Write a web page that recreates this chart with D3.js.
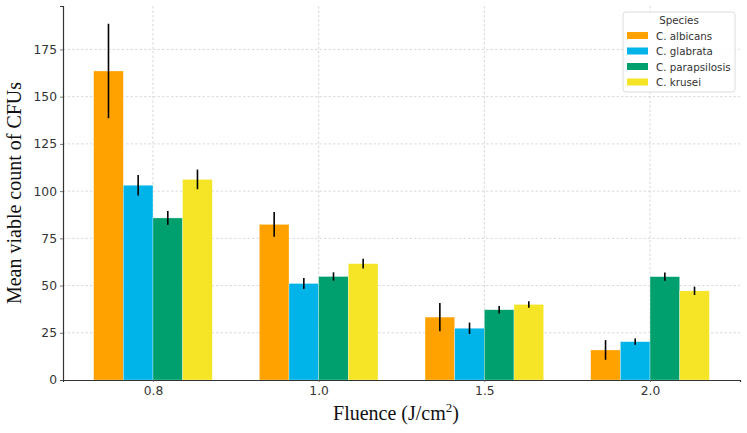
<!DOCTYPE html>
<html><head><meta charset="utf-8">
<script src="https://cdn.jsdelivr.net/npm/d3@7"></script>
<style>body{margin:0;background:#fff}svg{display:block}</style>
</head><body>
<script>
const categories = ["0.8", "1.0", "1.5", "2.0"];
const species = ["C. albicans", "C. glabrata", "C. parapsilosis", "C. krusei"];
const albicans = [163.6, 82.4, 33.3, 15.9];
const glabrata = [103.1, 51.1, 27.4, 20.3];
const parapsilosis = [85.8, 54.8, 37.2, 54.7];
const krusei = [106.2, 61.6, 40.0, 47.2];
const albicansErr = [25, 6.5, 7.5, 5.2];
const glabrataErr = [5.4, 2.9, 3.0, 1.7];
const parapsilosisErr = [3.7, 2.2, 2.0, 2.2];
const kruseiErr = [5.2, 2.6, 1.7, 2.2];
const yTicks = [0, 25, 50, 75, 100, 125, 150, 175];
const colors = ["#ffa200", "#00b4ea", "#00a06e", "#f5e526"];

const values = [albicans, glabrata, parapsilosis, krusei];
const errs = [albicansErr, glabrataErr, parapsilosisErr, kruseiErr];

const W = 747, H = 433;
const m = {left: 63, right: 7, top: 6, bottom: 53};
const svg = d3.select("body").append("svg").attr("width", W).attr("height", H);

const x = d3.scaleLinear().domain([-0.543, 3.543]).range([m.left, W - m.right]);
const y = d3.scaleLinear().domain([0, 198]).range([H - m.bottom, m.top]);
const barW = 0.179;

// grid
const g = svg.append("g");
g.selectAll(".hg").data(yTicks.slice(1)).join("line")
  .attr("x1", m.left).attr("x2", W - m.right)
  .attr("y1", d => y(d)).attr("y2", d => y(d))
  .attr("stroke", "#d0d0d0").attr("stroke-width", 0.8).attr("stroke-dasharray", "2.5,2");
g.selectAll(".vg").data(categories).join("line")
  .attr("x1", (d, i) => x(i)).attr("x2", (d, i) => x(i))
  .attr("y1", m.top).attr("y2", H - m.bottom)
  .attr("stroke", "#d0d0d0").attr("stroke-width", 0.8).attr("stroke-dasharray", "2.5,2");

// bars
species.forEach((s, si) => {
  const off = (si - 1.5) * barW;
  svg.append("g").selectAll("rect").data(values[si]).join("rect")
    .attr("x", (d, i) => x(i + off - barW / 2))
    .attr("width", x(barW) - x(0))
    .attr("y", d => y(d))
    .attr("height", d => y(0) - y(d))
    .attr("fill", colors[si])
    .attr("stroke", "rgba(255,255,255,0.5)").attr("stroke-width", 0.6);
  svg.append("g").selectAll("line").data(values[si]).join("line")
    .attr("x1", (d, i) => x(i + off)).attr("x2", (d, i) => x(i + off))
    .attr("y1", (d, i) => y(d + errs[si][i])).attr("y2", (d, i) => y(d - errs[si][i]))
    .attr("stroke", "#000").attr("stroke-width", 1.6);
});

// axes
const xAxis = svg.append("g").attr("transform", `translate(0,${H - m.bottom})`)
  .call(d3.axisBottom(x).tickValues([0, 1, 2, 3]).tickFormat(i => categories[i]).tickSize(2).tickPadding(4));
const yAxis = svg.append("g").attr("transform", `translate(${m.left},0)`)
  .call(d3.axisLeft(y).tickValues(yTicks).tickSize(3).tickPadding(3));
[xAxis, yAxis].forEach(a => {
  a.select(".domain").attr("stroke", "#333").attr("stroke-width", 1.2);
  a.selectAll(".tick line").attr("stroke", "#555").attr("stroke-width", 0.8);
  a.selectAll("text").attr("font-family", "DejaVu Sans, sans-serif").attr("font-size", 12.3).attr("fill", "#333");
});

// axis labels
svg.append("text").attr("x", 396).attr("y", 420).attr("text-anchor", "middle")
  .attr("font-family", "Liberation Serif, Times New Roman, serif").attr("font-size", 20).attr("fill", "#111")
  .html('Fluence (J/cm<tspan dy="-8" font-size="13">2</tspan><tspan dy="8">)</tspan>');
svg.append("text").attr("transform", `translate(21,${(m.top + H - m.bottom) / 2}) rotate(-90)`)
  .attr("text-anchor", "middle")
  .attr("font-family", "Liberation Serif, Times New Roman, serif").attr("font-size", 20).attr("fill", "#111")
  .text("Mean viable count of CFUs");

// legend
const lg = svg.append("g").attr("transform", "translate(623,12)");
lg.append("rect").attr("width", 112).attr("height", 80).attr("rx", 3)
  .attr("fill", "#fff").attr("fill-opacity", 0.85).attr("stroke", "#dcdcdc");
lg.append("text").attr("x", 56).attr("y", 12).attr("text-anchor", "middle")
  .attr("font-family", "DejaVu Sans, sans-serif").attr("font-size", 10.3).attr("fill", "#333").text("Species");
species.forEach((s, i) => {
  lg.append("rect").attr("x", 4).attr("y", 20 + i * 15.5).attr("width", 21).attr("height", 7).attr("fill", colors[i]);
  lg.append("text").attr("x", 33).attr("y", 27.5 + i * 15.5)
    .attr("font-family", "DejaVu Sans, sans-serif").attr("font-size", 10.3).attr("fill", "#333").text(s);
});
</script>
</body></html>
